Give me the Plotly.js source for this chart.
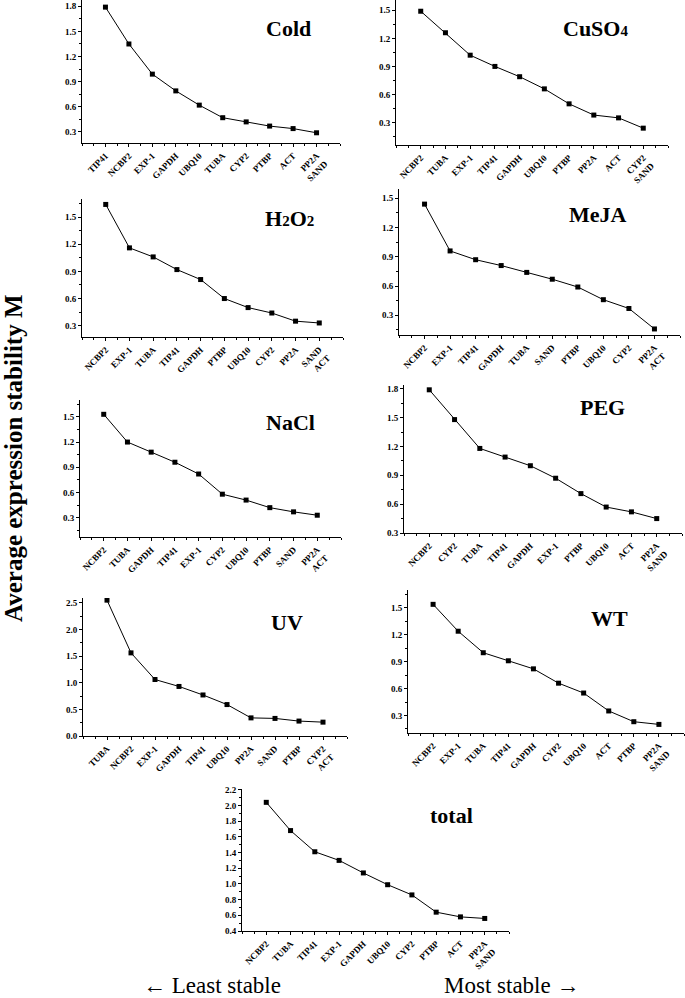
<!DOCTYPE html>
<html>
<head>
<meta charset="utf-8">
<script src="https://cdn.plot.ly/plotly-3.0.1.min.js"></script>
<style>html,body{margin:0;padding:0;background:#fff;}#chart{width:685px;height:998px;}</style>
</head>
<body>
<div id="chart"></div>
<script>
// ---- data ----
const coldGenes = ["TIP41","NCBP2","EXP-1","GAPDH","UBQ10","TUBA","CYP2","PTBP","ACT","PP2A<br>SAND"];
const coldM = [1.79,1.35,0.99,0.79,0.62,0.47,0.42,0.37,0.34,0.29];

const cuso4Genes = ["NCBP2","TUBA","EXP-1","TIP41","GAPDH","UBQ10","PTBP","PP2A","ACT","CYP2<br>SAND"];
const cuso4M = [1.49,1.26,1.02,0.90,0.79,0.66,0.50,0.38,0.35,0.24];

const h2o2Genes = ["NCBP2","EXP-1","TUBA","TIP41","GAPDH","PTBP","UBQ10","CYP2","PP2A","SAND<br>ACT"];
const h2o2M = [1.64,1.16,1.06,0.92,0.81,0.60,0.50,0.44,0.35,0.33];

const mejaGenes = ["NCBP2","EXP-1","TIP41","GAPDH","TUBA","SAND","PTBP","UBQ10","CYP2","PP2A<br>ACT"];
const mejaM = [1.44,0.96,0.87,0.81,0.74,0.67,0.59,0.46,0.37,0.16];

const naclGenes = ["NCBP2","TUBA","GAPDH","TIP41","EXP-1","CYP2","UBQ10","PTBP","SAND","PP2A<br>ACT"];
const naclM = [1.53,1.20,1.08,0.96,0.82,0.58,0.51,0.42,0.37,0.33];

const pegGenes = ["NCBP2","CYP2","TUBA","TIP41","GAPDH","EXP-1","PTBP","UBQ10","ACT","PP2A<br>SAND"];
const pegM = [1.79,1.48,1.18,1.09,1.00,0.87,0.71,0.57,0.52,0.45];

const uvGenes = ["TUBA","NCBP2","EXP-1","GAPDH","TIP41","UBQ10","PP2A","SAND","PTBP","CYP2<br>ACT"];
const uvM = [2.55,1.56,1.06,0.93,0.77,0.59,0.34,0.33,0.28,0.26];

const wtGenes = ["NCBP2","EXP-1","TUBA","TIP41","GAPDH","CYP2","UBQ10","ACT","PTBP","PP2A<br>SAND"];
const wtM = [1.54,1.24,1.00,0.91,0.82,0.66,0.55,0.35,0.23,0.20];

const totalGenes = ["NCBP2","TUBA","TIP41","EXP-1","GAPDH","UBQ10","CYP2","PTBP","ACT","PP2A<br>SAND"];
const totalM = [2.04,1.68,1.41,1.30,1.14,0.99,0.86,0.64,0.58,0.56];

const SUB = (s) => "<span style='font-size:15px'>" + s + "</span>";
const panelNames = ["Cold","CuSO" + SUB("4"),"H" + SUB("2") + "O" + SUB("2"),"MeJA","NaCl","PEG","UV","WT","total"];

// ---- layout helpers ----
const W = 685, H = 998;
const SERIF = "Liberation Serif, Times New Roman, serif";
function dx(a,b){return [a/W, b/W];}
function dy(top,bot){return [1-bot/H, 1-top/H];}

const panels = [
  {genes: coldGenes,  vals: coldM,  box:[82,340,0,143],     yr:[0.168,1.875], dt:0.3, t:[288,28]},
  {genes: cuso4Genes, vals: cuso4M, box:[396,668,0,145],    yr:[0.06,1.61],   dt:0.3, t:[595,28]},
  {genes: h2o2Genes,  vals: h2o2M,  box:[82,343,199,337],   yr:[0.175,1.70],  dt:0.3, t:[289,218]},
  {genes: mejaGenes,  vals: mejaM,  box:[399,680,189,335],  yr:[0.098,1.595], dt:0.3, t:[598,215]},
  {genes: naclGenes,  vals: naclM,  box:[80,341,400,537],   yr:[0.071,1.70],  dt:0.3, t:[290,422]},
  {genes: pegGenes,   vals: pegM,   box:[404,682,385,533],  yr:[0.3,1.84],    dt:0.3, t:[602,407]},
  {genes: uvGenes,    vals: uvM,    box:[83,347,598,736],   yr:[0,2.59],      dt:0.5, t:[287,622]},
  {genes: wtGenes,    vals: wtM,    box:[408,684,590,733],  yr:[0.104,1.70],  dt:0.3, t:[609,618]},
  {genes: totalGenes, vals: totalM, box:[242,509,789,931],  yr:[0.4,2.21],    dt:0.2, t:[452,815]}
];

const data = [];
const layout = {
  width: W, height: H,
  margin: {l:0, r:0, t:0, b:0},
  paper_bgcolor: "#fff", plot_bgcolor: "#fff",
  showlegend: false,
  font: {family: SERIF, color: "#000"},
  annotations: []
};

panels.forEach((p, i) => {
  const n = i + 1;
  const xs = p.genes.map((g, k) => k + 1);
  data.push({
    x: xs, y: p.vals,
    xaxis: "x" + n, yaxis: "y" + n,
    type: "scatter", mode: "lines+markers",
    line: {color: "#000", width: 1},
    marker: {symbol: "square", size: 5, color: "#000"},
    hoverinfo: "skip"
  });
  layout["xaxis" + n] = {
    domain: dx(p.box[0], p.box[1]),
    range: [0, 11],
    anchor: "y" + n,
    tickmode: "array",
    tickvals: xs,
    ticktext: p.genes,
    tickangle: -45,
    tickfont: {family: SERIF, size: 9, weight: "bold", color: "#000"},
    showline: true, linecolor: "#000", linewidth: 1,
    ticks: "outside", ticklen: 3, tickcolor: "#000", tickwidth: 1,
    minor: {tickmode: "linear", tick0: 0, dtick: 0.5, ticks: "outside", ticklen: 2, tickcolor: "#000"},
    showgrid: false, zeroline: false, fixedrange: true
  };
  layout["yaxis" + n] = {
    domain: dy(p.box[2], p.box[3]),
    range: p.yr,
    anchor: "x" + n,
    tickmode: "linear", tick0: 0, dtick: p.dt,
    tickformat: ".1f",
    tickfont: {family: SERIF, size: 9, weight: "bold", color: "#000"},
    showline: true, linecolor: "#000", linewidth: 1,
    ticks: "outside", ticklen: 3, tickcolor: "#000", tickwidth: 1,
    minor: {tickmode: "linear", tick0: 0, dtick: p.dt / 2, ticks: "outside", ticklen: 2, tickcolor: "#000"},
    showgrid: false, zeroline: false, fixedrange: true
  };
  layout.annotations.push({
    xref: "paper", yref: "paper",
    x: p.t[0] / W, y: 1 - p.t[1] / H,
    xanchor: "center", yanchor: "middle",
    text: "<b>" + panelNames[i] + "</b>",
    showarrow: false,
    font: {family: SERIF, size: 22, color: "#000"}
  });
});

layout.annotations.push({
  xref: "paper", yref: "paper", x: 13 / W, y: 1 - 458 / H,
  xanchor: "center", yanchor: "middle", textangle: -90,
  text: "<b>Average expression stability M</b>", showarrow: false,
  font: {family: SERIF, size: 25, color: "#000"}
});
layout.annotations.push({
  xref: "paper", yref: "paper", x: 212 / W, y: 1 - 985 / H,
  xanchor: "center", yanchor: "middle",
  text: "← Least stable", showarrow: false,
  font: {family: SERIF, size: 23, color: "#000"}
});
layout.annotations.push({
  xref: "paper", yref: "paper", x: 512 / W, y: 1 - 985 / H,
  xanchor: "center", yanchor: "middle",
  text: "Most stable →", showarrow: false,
  font: {family: SERIF, size: 23, color: "#000"}
});

Plotly.newPlot("chart", data, layout, {staticPlot: true, displayModeBar: false});
</script>
</body>
</html>
